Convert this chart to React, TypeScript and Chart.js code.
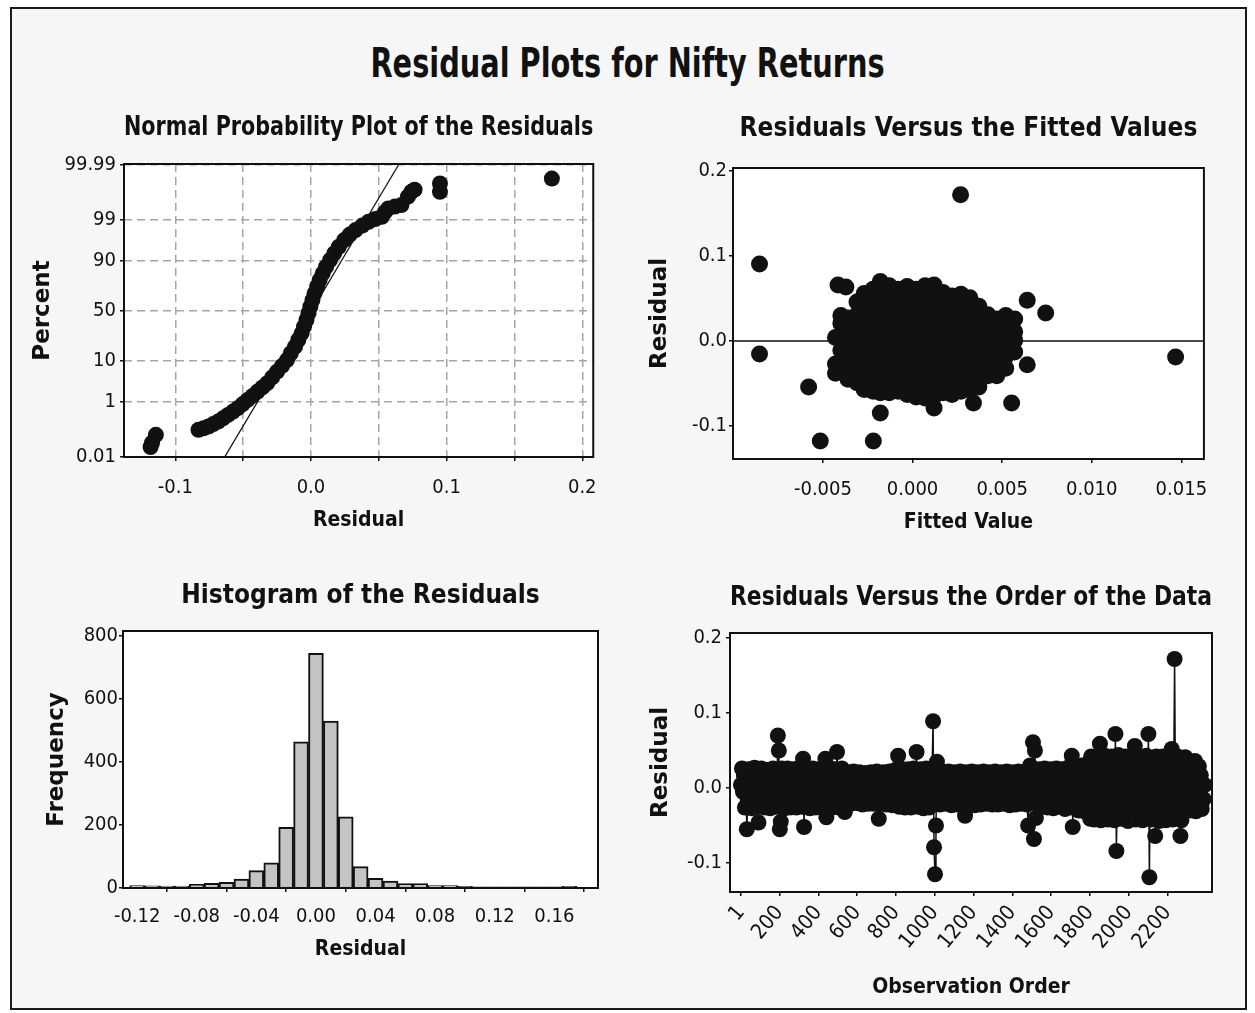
import React, { useEffect, useRef } from 'react';
import { Chart, registerables } from 'chart.js';

Chart.register(...registerables);

const NARROW = "'Liberation Sans Narrow', 'DejaVu Sans Condensed', 'Arial Narrow', sans-serif";
const WIDE = "'DejaVu Sans', Verdana, sans-serif";
const INK = '#111111';

// ---------- Normal probability plot of the residuals ----------
const npResidual = [
  -0.1182, -0.1171, -0.1143, -0.0829, -0.0792, -0.0756, -0.072, -0.0684, -0.0648, -0.0611,
  -0.0575, -0.0539, -0.0503, -0.0467, -0.043, -0.0394, -0.0358, -0.0322, -0.0286, -0.025,
  -0.0213, -0.0177, -0.0148, -0.0117, -0.0093, -0.0069, -0.0051, -0.0033, -0.0018, -0.0004,
  0.0011, 0.0027, 0.0046, 0.0064, 0.0087, 0.0112, 0.0141, 0.0172, 0.0206, 0.0245,
  0.0286, 0.0329, 0.0378, 0.0425, 0.0474, 0.0522, 0.0546, 0.057, 0.0619, 0.0667,
  0.0715, 0.074, 0.0764, 0.0951, 0.0951, 0.1776,
];
const npPercent = [
  0.026, 0.039, 0.079, 0.121, 0.138, 0.159, 0.195, 0.239, 0.309, 0.4,
  0.513, 0.655, 0.875, 1.16, 1.51, 1.98, 2.55, 3.26, 4.49, 6.07,
  8.03, 10.5, 14.0, 18.1, 22.9, 28.4, 34.4, 40.8, 47.6, 54.3,
  60.9, 67.3, 73.1, 78.4, 83.1, 87.0, 90.25, 92.9, 94.9, 96.45,
  97.42, 98.03, 98.52, 98.85, 99.04, 99.18, 99.41, 99.55, 99.61, 99.65,
  99.82, 99.88, 99.9, 99.88, 99.942, 99.963,
];
const npFitResidual = [-0.0635, 0.0645];
const npFitPercent = [0.01, 99.99];
const npPercentTicks = [0.01, 1, 10, 50, 90, 99, 99.99];
const npPercentLabels = ['0.01', '1', '10', '50', '90', '99', '99.99'];
const npResidualTicks = [-0.1, -0.05, 0, 0.05, 0.1, 0.15, 0.2];
const npResidualLabels = ['-0.1', '', '0.0', '', '0.1', '', '0.2'];

// ---------- Residuals versus the fitted values ----------
const fittedColumns = [
  -0.0043, -0.004, -0.0036, -0.0031, -0.0027, -0.0022, -0.0018, -0.0013, -0.0008, -0.0003,
  0.0002, 0.0007, 0.0012, 0.0017, 0.0022, 0.0027, 0.0032, 0.0037, 0.0042, 0.0047,
  0.0052, 0.0057,
];
const fittedColumnResiduals = [
  [-0.038, -0.027, 0.004],
  [0.021, 0.006, -0.011, -0.031, 0.03],
  [0.027, 0.016, 0.003, -0.009, -0.023, -0.034, -0.045],
  [0.046, 0.031, 0.021, 0.007, -0.005, -0.015, -0.029, -0.039, -0.049],
  [0.056, 0.043, 0.033, 0.019, 0.009, -0.003, -0.017, -0.027, -0.041, -0.051, -0.057],
  [0.061, 0.047, 0.037, 0.023, 0.012, 0.001, -0.013, -0.023, -0.037, -0.047, -0.059],
  [0.07, 0.057, 0.047, 0.033, 0.023, 0.009, -0.003, -0.013, -0.027, -0.037, -0.051, -0.061],
  [0.065, 0.055, 0.041, 0.031, 0.017, 0.007, -0.005, -0.019, -0.029, -0.043, -0.053, -0.061],
  [0.061, 0.051, 0.037, 0.027, 0.013, 0.003, -0.011, -0.021, -0.035, -0.045, -0.059],
  [0.064, 0.05, 0.04, 0.026, 0.016, 0.002, -0.008, -0.022, -0.032, -0.046, -0.056, -0.063],
  [0.061, 0.051, 0.037, 0.027, 0.013, 0.003, -0.011, -0.021, -0.035, -0.045, -0.059, -0.066],
  [0.065, 0.051, 0.041, 0.027, 0.017, 0.003, -0.007, -0.021, -0.031, -0.045, -0.055, -0.067],
  [0.066, 0.053, 0.043, 0.029, 0.019, 0.005, -0.007, -0.017, -0.031, -0.041, -0.055, -0.065],
  [0.057, 0.043, 0.033, 0.019, 0.009, -0.005, -0.015, -0.029, -0.039, -0.053, -0.061],
  [0.053, 0.043, 0.029, 0.019, 0.005, -0.005, -0.019, -0.029, -0.043, -0.053, -0.063],
  [0.055, 0.042, 0.032, 0.018, 0.008, -0.006, -0.016, -0.03, -0.04, -0.054, -0.059],
  [0.051, 0.037, 0.027, 0.013, 0.003, -0.011, -0.021, -0.035, -0.045, -0.057],
  [0.041, 0.027, 0.017, 0.003, -0.007, -0.021, -0.031, -0.045, -0.054],
  [0.031, 0.017, 0.007, -0.007, -0.017, -0.031, -0.041],
  [0.026, 0.016, 0.002, -0.008, -0.022, -0.032, -0.041],
  [0.03, 0.016, 0.006, -0.008, -0.018, -0.032],
  [0.026, 0.011, 0.001, -0.013],
];
const fittedOutlierX = [
  -0.00854, -0.00854, 0.00268, 0.01468, -0.0058, -0.00515, -0.00219, -0.0018,
  0.00743, 0.0064, 0.00553, -0.00416, -0.00372, 0.0064, 0.0012, 0.0034,
];
const fittedOutlierY = [
  0.0906, -0.0153, 0.172, -0.0188, -0.054, -0.1176, -0.1176, -0.0847,
  0.033, 0.048, -0.073, 0.0659, 0.0635, -0.028, -0.0788, -0.073,
];
const fittedZeroLineX = [-0.01002, 0.01626];
const fittedTicks = [-0.005, 0, 0.005, 0.01, 0.015];
const fittedTickLabels = ['-0.005', '0.000', '0.005', '0.010', '0.015'];
const residualTicks = [-0.1, 0, 0.1, 0.2];
const residualTickLabels = ['-0.1', '0.0', '0.1', '0.2'];

// ---------- Histogram of the residuals ----------
const histBinCenters = [
  -0.12, -0.11, -0.1, -0.09, -0.08, -0.07, -0.06, -0.05, -0.04, -0.03,
  -0.02, -0.01, 0, 0.01, 0.02, 0.03, 0.04, 0.05, 0.06, 0.07,
  0.08, 0.09, 0.1, 0.11, 0.12, 0.13, 0.14, 0.15, 0.16, 0.17,
];
const histCounts = [
  8, 7, 6, 6, 12, 15, 18, 28, 55, 80,
  193, 464, 745, 530, 226, 68, 31, 22, 14, 14,
  8, 8, 5, 4, 4, 4, 4, 4, 4, 5,
];
const histXTicks = [-0.12, -0.08, -0.04, 0, 0.04, 0.08, 0.12, 0.16];
const histXLabels = ['-0.12', '-0.08', '-0.04', '0.00', '0.04', '0.08', '0.12', '0.16'];
const histYTicks = [0, 200, 400, 600, 800];

// ---------- Residuals versus the order of the data (every 5th observation) ----------
const orderFirst = 1;
const orderStep = 5;
const orderResiduals = [
  0.004, 0.026, -0.005, 0.016, -0.026, 0.005, -0.055, -0.016, 0.025, -0.004,
  0.015, -0.027, 0.006, -0.015, 0.027, -0.006, 0.017, -0.025, -0.046, 0.004,
  -0.017, 0.026, -0.005, 0.015, -0.026, 0.005, -0.016, 0.024, -0.004, 0.016,
  -0.027, 0.006, -0.015, 0.026, -0.006, 0.016, -0.025, 0.004, 0.07, 0.05,
  -0.055, -0.045, 0.026, -0.005, 0.015, -0.027, 0.005, -0.016, 0.026, -0.004,
  0.016, -0.026, 0.006, -0.015, 0.025, -0.005, 0.017, -0.026, 0.004, -0.016,
  0.027, -0.006, 0.015, -0.025, 0.039, -0.052, 0.005, -0.016, 0.026, -0.005,
  0.016, -0.027, 0.004, -0.015, 0.026, -0.006, 0.016, -0.026, 0.005, -0.017,
  0.025, -0.004, 0.015, -0.026, 0.006, -0.016, 0.026, 0.039, -0.039, 0.005,
  -0.015, 0.027, -0.005, 0.016, -0.026, 0.004, -0.016, 0.025, -0.006, 0.048,
  0.015, -0.026, 0.005, -0.015, 0.026, -0.005, 0.016, -0.032, 0.004, -0.016,
  0.021, -0.004, 0.013, -0.021, 0.004, -0.013, 0.022, -0.003, 0.012, -0.02,
  0.005, -0.012, 0.021, -0.004, 0.013, -0.022, 0.003, -0.013, 0.02, -0.005,
  0.012, -0.021, 0.004, -0.012, 0.021, -0.004, 0.014, -0.021, 0.005, -0.013,
  0.022, -0.003, -0.041, 0.013, -0.021, 0.004, -0.012, 0.021, -0.005, 0.013,
  -0.022, 0.004, -0.013, 0.022, -0.004, 0.012, -0.023, 0.005, -0.014, 0.024,
  -0.005, 0.015, 0.043, -0.025, 0.005, -0.015, 0.025, -0.004, 0.016, -0.026,
  0.006, -0.016, 0.025, -0.005, 0.015, -0.026, 0.004, -0.015, 0.026, -0.006,
  0.016, 0.048, -0.025, 0.005, -0.016, 0.025, -0.005, 0.016, -0.027, 0.004,
  -0.015, 0.026, -0.004, 0.015, -0.026, 0.006, -0.016, 0.024, 0.089, -0.079,
  -0.115, -0.05, 0.035, -0.004, 0.013, -0.022, 0.004, -0.013, 0.022, -0.005,
  0.012, -0.021, 0.005, -0.013, 0.022, -0.004, 0.013, -0.023, 0.004, -0.012,
  0.021, -0.005, 0.013, -0.022, 0.003, -0.013, 0.022, -0.004, 0.012, -0.022,
  0.005, -0.037, 0.021, -0.004, 0.013, -0.021, 0.004, -0.012, 0.022, -0.005,
  0.013, -0.023, 0.004, -0.013, 0.021, -0.004, 0.012, -0.022, 0.005, -0.014,
  0.022, -0.003, 0.013, -0.021, 0.004, -0.013, 0.021, -0.005, 0.012, -0.022,
  0.004, -0.012, 0.022, -0.004, 0.014, -0.022, 0.005, -0.013, 0.021, -0.004,
  0.013, -0.021, 0.004, -0.012, 0.022, -0.005, 0.013, -0.023, 0.003, -0.013,
  0.021, -0.004, 0.012, -0.022, 0.005, -0.013, 0.022, -0.004, 0.013, -0.021,
  0.004, -0.012, 0.021, -0.005, 0.013, -0.022, -0.05, 0.004, 0.03, -0.013,
  0.016, 0.061, -0.068, 0.05, -0.04, 0.005, -0.016, 0.025, -0.005, 0.015,
  -0.025, 0.006, -0.015, 0.026, -0.004, 0.016, -0.026, 0.005, -0.016, 0.025,
  -0.006, 0.015, -0.027, 0.004, -0.015, 0.026, -0.005, 0.017, -0.025, 0.006,
  -0.016, 0.025, -0.004, 0.015, -0.028, 0.005, -0.016, 0.027, -0.006, 0.016,
  -0.026, 0.043, -0.052, 0.005, -0.018, 0.03, -0.006, 0.018, -0.03, 0.006,
  -0.018, 0.03, -0.006, 0.018, -0.031, 0.006, -0.019, 0.032, -0.007, 0.019,
  -0.041, 0.042, -0.014, 0.028, -0.042, 0.001, -0.028, 0.014, 0.041, -0.013,
  0.059, -0.043, 0.0, -0.028, 0.015, 0.043, -0.015, 0.027, -0.042, 0.002,
  -0.029, 0.013, 0.042, -0.014, 0.028, -0.043, 0.072, -0.084, 0.014, 0.044,
  -0.013, 0.029, -0.041, 0.001, -0.027, 0.015, 0.042, -0.015, 0.028, -0.044,
  0.0, -0.029, 0.014, 0.043, -0.014, 0.028, 0.056, -0.042, 0.001, -0.028,
  0.013, 0.041, -0.015, 0.029, -0.043, 0.0, -0.027, 0.014, 0.043, -0.014,
  0.072, -0.119, 0.028, -0.042, 0.002, -0.029, 0.015, -0.064, 0.042, -0.013,
  0.027, -0.044, 0.001, -0.028, 0.013, 0.042, -0.014, 0.029, -0.043, 0.0,
  -0.028, 0.014, 0.041, -0.015, 0.052, -0.042, 0.001, 0.172, -0.029, 0.013,
  0.042, -0.014, 0.028, -0.064, -0.043, 0.0, -0.028, 0.014, 0.041, -0.015,
  0.03, -0.006, 0.018, -0.03, 0.006, -0.018, 0.031, -0.005, 0.036, -0.031,
  0.006, -0.018, 0.029, -0.006, 0.017, -0.028, 0.005, -0.015, 0.004,
];
const orderTicks = [1, 200, 400, 600, 800, 1000, 1200, 1400, 1600, 1800, 2000, 2200];

// ---------- helpers ----------
function probit(p: number): number {
  const a = [-39.69683028665376, 220.9460984245205, -275.9285104469687, 138.357751867269, -30.66479806614716, 2.506628277459239];
  const b = [-54.47609879822406, 161.5858368580409, -155.6989798598866, 66.80131188771972, -13.28068155288572];
  const c = [-0.007784894002430293, -0.3223964580411365, -2.400758277161838, -2.549732539343734, 4.374664141464968, 2.938163982698783];
  const d = [0.007784695709041462, 0.3224671290700398, 2.445134137142996, 3.754408661907416];
  const pl = 0.02425;
  if (p < pl) {
    const q = Math.sqrt(-2 * Math.log(p));
    return (((((c[0] * q + c[1]) * q + c[2]) * q + c[3]) * q + c[4]) * q + c[5]) / ((((d[0] * q + d[1]) * q + d[2]) * q + d[3]) * q + 1);
  }
  if (p > 1 - pl) {
    const q = Math.sqrt(-2 * Math.log(1 - p));
    return -(((((c[0] * q + c[1]) * q + c[2]) * q + c[3]) * q + c[4]) * q + c[5]) / ((((d[0] * q + d[1]) * q + d[2]) * q + d[3]) * q + 1);
  }
  const q = p - 0.5;
  const r = q * q;
  return ((((((a[0] * r + a[1]) * r + a[2]) * r + a[3]) * r + a[4]) * r + a[5]) * q) / (((((b[0] * r + b[1]) * r + b[2]) * r + b[3]) * r + b[4]) * r + 1);
}

const tickFont = { family: NARROW, size: 20, lineHeight: 1.2 };
const xTitleFont = { family: NARROW, size: 21, weight: 'bold', lineHeight: 1.2 };
const yTitleFont = { family: WIDE, size: 23, weight: 'bold', lineHeight: 1.2 };
const panelTitleFont = { family: NARROW, size: 26, weight: 'bold', lineHeight: 1.2 };

const framePlugin = {
  id: 'frame',
  beforeDraw(chart: any) {
    const { ctx, chartArea: a } = chart;
    ctx.save();
    ctx.fillStyle = '#ffffff';
    ctx.fillRect(a.left, a.top, a.right - a.left, a.bottom - a.top);
    ctx.restore();
  },
  afterDatasetsDraw(chart: any) {
    const { ctx, chartArea: a } = chart;
    ctx.save();
    ctx.strokeStyle = INK;
    ctx.lineWidth = 2;
    ctx.strokeRect(a.left, a.top, a.right - a.left, a.bottom - a.top);
    ctx.restore();
  },
};

function axis(opts: any) {
  const {
    min, max, ticks, labels, size, horizontal, title, titleFont, titlePad, tickPad,
    grid, dash, rotation, font,
  } = opts;
  return {
    type: 'linear',
    min,
    max,
    offset: false,
    afterBuildTicks: (s: any) => {
      s.ticks = ticks.map((v: number) => ({ value: v }));
    },
    afterFit: (s: any) => {
      if (horizontal) s.height = size;
      else s.width = size;
    },
    ticks: {
      autoSkip: false,
      color: INK,
      font: font || tickFont,
      padding: tickPad,
      minRotation: rotation || 0,
      maxRotation: rotation || 0,
      callback: (_v: any, i: number) => labels[i],
    },
    grid: {
      display: true,
      drawOnChartArea: !!grid,
      color: grid ? '#a6a6a6' : 'rgba(0,0,0,0)',
      lineWidth: 1.5,
      drawTicks: true,
      tickLength: 4,
      tickWidth: 1.5,
      tickColor: INK,
    },
    border: { display: false, dash: dash || [] },
    title: {
      display: true,
      text: title,
      color: INK,
      font: titleFont,
      padding: horizontal ? { top: 0, bottom: titlePad } : { top: titlePad, bottom: 0 },
    },
  };
}

function baseOptions(titleText: string, padTop: number, titlePadBottom: number, scales: any) {
  return {
    responsive: false,
    animation: false,
    events: [],
    layout: { padding: { top: padTop, right: 10, bottom: 0, left: 0 } },
    plugins: {
      legend: { display: false },
      tooltip: { enabled: false },
      title: {
        display: true,
        text: titleText,
        fullSize: false,
        color: INK,
        font: panelTitleFont,
        padding: { top: 0, bottom: titlePadBottom },
      },
    },
    scales,
  };
}

function normalPlotConfig() {
  const points = npResidual.map((r, i) => ({ x: r, y: probit(npPercent[i] / 100) }));
  const fit = npFitResidual.map((r, i) => ({ x: r, y: probit(npFitPercent[i] / 100) }));
  return {
    type: 'scatter',
    data: {
      datasets: [
        { data: fit, showLine: true, borderColor: INK, borderWidth: 1.3, pointRadius: 0 },
        { data: points, pointRadius: 8, backgroundColor: INK, borderWidth: 0 },
      ],
    },
    options: baseOptions('Normal Probability Plot of the Residuals', 12.4, 20.4, {
      x: axis({
        min: -0.1378, max: 0.2081, ticks: npResidualTicks, labels: npResidualLabels, size: 82,
        horizontal: true, title: 'Residual', titleFont: xTitleFont, titlePad: 5.4, tickPad: 15,
        grid: true, dash: [8, 5],
      }),
      y: axis({
        min: -3.725, max: 3.745, ticks: npPercentTicks.map((p) => probit(p / 100)), labels: npPercentLabels,
        size: 106, horizontal: false, title: 'Percent', titleFont: yTitleFont, titlePad: 11.2, tickPad: 4,
        grid: true, dash: [8, 5],
      }),
    }),
    plugins: [framePlugin],
  };
}

function fittedPlotConfig() {
  const cluster: any[] = [];
  fittedColumns.forEach((fx, i) => {
    fittedColumnResiduals[i].forEach((ry) => cluster.push({ x: fx, y: ry }));
  });
  fittedOutlierX.forEach((fx, i) => cluster.push({ x: fx, y: fittedOutlierY[i] }));
  const zero = fittedZeroLineX.map((fx) => ({ x: fx, y: 0 }));
  return {
    type: 'scatter',
    data: {
      datasets: [
        { data: zero, showLine: true, borderColor: INK, borderWidth: 1.6, pointRadius: 0 },
        { data: cluster, pointRadius: 8.5, backgroundColor: INK, borderWidth: 0 },
      ],
    },
    options: baseOptions('Residuals Versus the Fitted Values', 13.4, 23.4, {
      x: axis({
        min: -0.01002, max: 0.01626, ticks: fittedTicks, labels: fittedTickLabels, size: 82,
        horizontal: true, title: 'Fitted Value', titleFont: xTitleFont, titlePad: 5.4, tickPad: 15,
      }),
      y: axis({
        min: -0.1388, max: 0.2035, ticks: residualTicks, labels: residualTickLabels, size: 93,
        horizontal: false, title: 'Residual', titleFont: yTitleFont, titlePad: 6.2, tickPad: 2,
      }),
    }),
    plugins: [framePlugin],
  };
}

function histogramConfig() {
  const bars = histBinCenters.map((c, i) => ({ x: c, y: histCounts[i] }));
  return {
    type: 'bar',
    data: {
      datasets: [
        {
          data: bars,
          backgroundColor: '#c4c4c4',
          borderColor: INK,
          borderWidth: 2,
          barPercentage: 1,
          categoryPercentage: 1,
        },
      ],
    },
    options: baseOptions('Histogram of the Residuals', 20.4, 19.4, {
      x: axis({
        min: -0.1295, max: 0.1893, ticks: histXTicks, labels: histXLabels, size: 80,
        horizontal: true, title: 'Residual', titleFont: xTitleFont, titlePad: 5.4, tickPad: 13,
      }),
      y: axis({
        min: 0, max: 816, ticks: histYTicks, labels: histYTicks.map(String), size: 105,
        horizontal: false, title: 'Frequency', titleFont: yTitleFont, titlePad: 25.2, tickPad: 1,
      }),
    }),
    plugins: [framePlugin],
  };
}

function orderPlotConfig() {
  const pts = orderResiduals.map((r, i) => ({ x: orderFirst + i * orderStep, y: r }));
  return {
    type: 'scatter',
    data: {
      datasets: [
        {
          data: pts, showLine: true, borderColor: INK, borderWidth: 1.5,
          pointRadius: 8, backgroundColor: INK, pointBorderWidth: 0,
        },
      ],
    },
    options: baseOptions('Residuals Versus the Order of the Data', 22.4, 19.4, {
      x: axis({
        min: -55.7, max: 2428.8, ticks: orderTicks, labels: orderTicks.map(String), size: 114,
        horizontal: true, title: 'Observation Order', titleFont: xTitleFont, titlePad: 5.4, tickPad: 5,
        rotation: 50, font: { family: NARROW, size: 21, lineHeight: 1.2 },
      }),
      y: axis({
        min: -0.1387, max: 0.2067, ticks: residualTicks, labels: residualTickLabels, size: 90,
        horizontal: false, title: 'Residual', titleFont: yTitleFont, titlePad: 7.2, tickPad: 4,
      }),
    }),
    plugins: [framePlugin],
  };
}

function Panel({ left, top, width, height, make }: any) {
  const ref = useRef<HTMLCanvasElement | null>(null);
  useEffect(() => {
    if (!ref.current) return;
    const chart = new Chart(ref.current, make() as any);
    return () => chart.destroy();
  }, []);
  return (
    <canvas
      ref={ref}
      width={width}
      height={height}
      style={{ position: 'absolute', left, top, width, height }}
    />
  );
}

export default function App() {
  return (
    <div style={{ position: 'absolute', left: 0, top: 0, width: 1255, height: 1013, overflow: 'hidden', background: '#ffffff' }}>
      <div
        style={{
          position: 'absolute', left: 10, top: 7, width: 1237, height: 1003,
          border: '2.5px solid #1a1a1a', boxSizing: 'border-box', background: '#f6f6f6',
        }}
      />
      <div
        style={{
          position: 'absolute', left: 0, top: 39, width: 1255, textAlign: 'center',
          fontFamily: NARROW, fontWeight: 'bold', fontSize: 40, lineHeight: '48px', color: INK,
          transform: 'scaleX(0.8)', transformOrigin: '50% 50%',
        }}
      >
        Residual Plots for Nifty Returns
      </div>
      <Panel left={18} top={100} width={594} height={439} make={normalPlotConfig} />
      <Panel left={640} top={100} width={583} height={441} make={fittedPlotConfig} />
      <Panel left={18} top={560} width={590} height={408} make={histogramConfig} />
      <Panel left={640} top={560} width={582} height={446} make={orderPlotConfig} />
    </div>
  );
}
